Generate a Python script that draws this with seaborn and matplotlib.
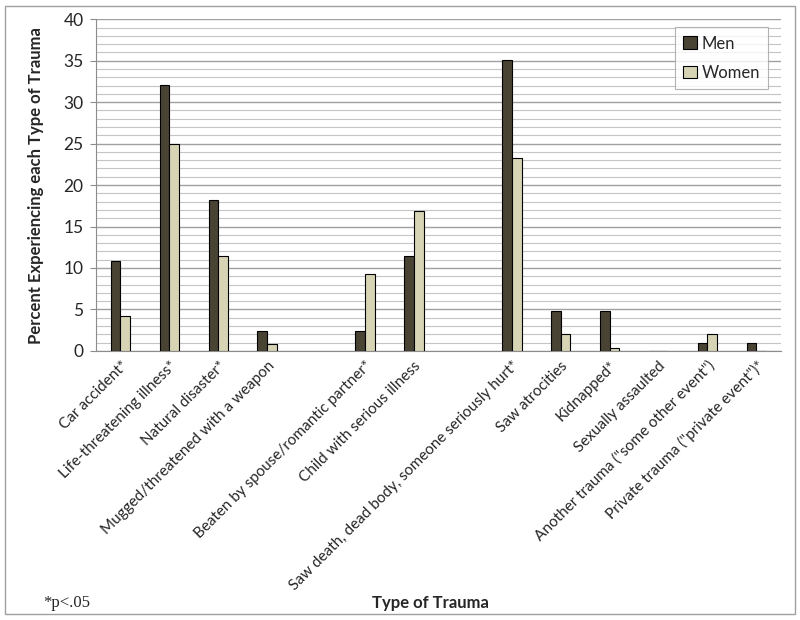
import pandas as pd
import seaborn as sns
import matplotlib.pyplot as plt
from matplotlib.patches import Rectangle
from matplotlib.ticker import MultipleLocator

# categories (two blank slots split the groups)
categories = ["Car accident*", "Life-threatening illness*", "Natural disaster*",
              "Mugged/threatened with a weapon", " ",
              "Beaten by spouse/romantic partner*", "Child with serious illness", "  ",
              "Saw death, dead body, someone seriously hurt*", "Saw atrocities",
              "Kidnapped*", "Sexually assaulted",
              "Another trauma (\"some other event\")",
              "Private trauma (\"private event\")*"]
trauma = ["Car accident*", "Life-threatening illness*", "Natural disaster*",
          "Mugged/threatened with a weapon",
          "Beaten by spouse/romantic partner*", "Child with serious illness",
          "Saw death, dead body, someone seriously hurt*", "Saw atrocities",
          "Kidnapped*", "Sexually assaulted",
          "Another trauma (\"some other event\")",
          "Private trauma (\"private event\")*"]
men = [10.9, 32.1, 18.2, 2.4, 2.4, 11.5, 35.1, 4.8, 4.8, 0, 1.0, 1.0]
women = [4.2, 25.0, 11.4, 0.8, 9.3, 16.9, 23.3, 2.1, 0.4, 0, 2.0, 0]

df = pd.DataFrame({
    "trauma": trauma * 2,
    "pct": men + women,
    "sex": ["Men"] * len(men) + ["Women"] * len(women),
})

sns.set_style("white")
plt.rcParams["font.family"] = ["Lato", "DejaVu Sans"]

fig = plt.figure(figsize=(8, 6.2), dpi=100)
ax = fig.add_axes([0.12, 0.434, 0.856, 0.535])

sns.barplot(data=df, x="trauma", y="pct", hue="sex", order=categories,
            hue_order=["Men", "Women"], palette=["#4d4530", "#ddd8b0"],
            width=0.4, edgecolor="black", linewidth=0.8, ax=ax, zorder=3)

ax.set_ylim(0, 40)
ax.set_xlim(-0.5, len(categories) - 0.5)
ax.yaxis.set_major_locator(MultipleLocator(5))
ax.yaxis.set_minor_locator(MultipleLocator(1))
ax.grid(axis="y", which="major", color="#a0a0a0", linewidth=1.0, zorder=0)
ax.grid(axis="y", which="minor", color="#c4c4c4", linewidth=0.8, zorder=0)
ax.set_axisbelow(True)
for s in ["top", "right"]:
    ax.spines[s].set_visible(False)
ax.spines["left"].set_color("#8c8c8c")
ax.spines["bottom"].set_color("#8c8c8c")
ax.tick_params(axis="y", which="major", left=True, length=4, color="#8c8c8c",
               labelsize=12.5, pad=5)
ax.tick_params(axis="x", bottom=False, labelsize=11, pad=2)
plt.setp(ax.get_xticklabels(), rotation=45, ha="right", rotation_mode="anchor")

ax.set_xlabel("")
fig.text(0.5375, 0.027, "Type of Trauma", fontsize=12, fontweight="bold",
         ha="center", va="center")
ax.set_ylabel("Percent Experiencing each Type of Trauma", fontsize=12,
              fontweight="bold", labelpad=14)

leg = ax.legend(loc="upper right", bbox_to_anchor=(0.982, 0.976), frameon=True,
                fancybox=False, fontsize=12, handlelength=0.8, handleheight=0.8,
                handletextpad=0.3, labelspacing=0.8, borderpad=0.5,
                borderaxespad=0)
leg.get_frame().set_edgecolor("#a0a0a0")
leg.get_frame().set_linewidth(0.8)
for h in leg.legend_handles:
    h.set_edgecolor("black")

fig.text(0.054, 0.027, "*p<.05", fontsize=12, family="Liberation Serif",
         va="center")
fig.patches.append(Rectangle((0.006, 0.009), 0.988, 0.982, transform=fig.transFigure,
                             fill=False, edgecolor="#a0a0a0", linewidth=1.0))

fig.savefig("out.png", dpi=100)
